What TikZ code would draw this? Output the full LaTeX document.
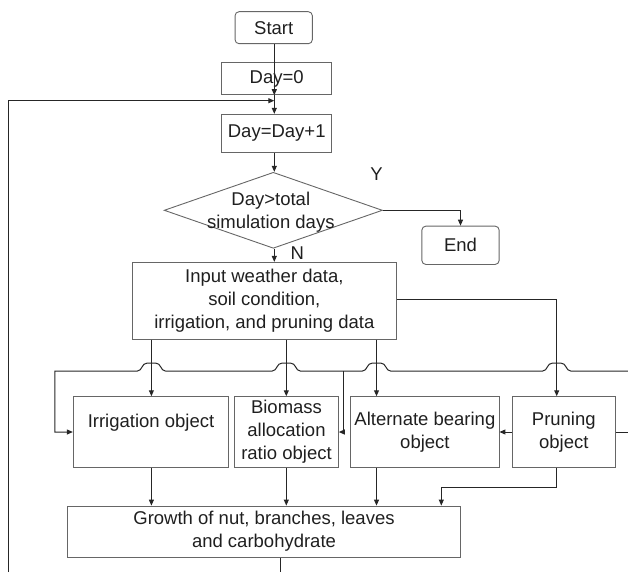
\documentclass[tikz,border=0pt]{standalone}
\usepackage{fontspec}
\setmainfont{Liberation Sans}
\usetikzlibrary{arrows.meta,shapes.geometric,calc}
\begin{document}
\begin{tikzpicture}[x=1pt,y=-1pt,
  every node/.style={font=\fontsize{18.5}{23}\selectfont, text=black!88, align=center, inner sep=0pt},
  box/.style={draw=black!60, line width=0.9pt, rectangle},
  rbox/.style={box, rounded corners=4pt},
  conn/.style={draw=black!85, line width=1pt},
  arr/.style={conn, -{Triangle[length=6pt,width=5pt]}}]
\useasboundingbox (0,0) rectangle (628,572);
\newcommand\hopat[1]{-- ({#1+14},371) .. controls ({#1+9},371) and ({#1+10},363) .. ({#1+4},363) -- ({#1-4},363) .. controls ({#1-10},363) and ({#1-9},371) .. ({#1-14},371)}
% nodes
\node[rbox, minimum width=77.3pt, minimum height=32pt] (start) at (273.7,27.7) {Start};
\node[box, minimum width=110pt, minimum height=32pt] (day0) at (276.7,78.8) {Day=0};
\node[box, minimum width=110pt, minimum height=38.4pt] (dayinc) at (276.7,133.5) {Day=Day+1};
\node[draw=black!60, line width=0.9pt, diamond, minimum width=218.3pt, minimum height=76pt] (dia) at (273.3,210.3) {};
\node (diatext) at (270.8,212) {Day>total\\simulation days};
\node[rbox, minimum width=77.3pt, minimum height=38.3pt] (end) at (460.5,245.3) {End};
\node (ylab) at (376.5,174) {Y};
\node (nlab) at (297.2,253.3) {N};
\node[box, minimum width=264.3pt, minimum height=76.7pt] (input) at (264.3,300.7) {Input weather data,\\soil condition,\\irrigation, and pruning data};
\node[box, minimum width=155.4pt, minimum height=70.6pt] (irr) at (151,432) {Irrigation object\\\mbox{}};
\node[box, minimum width=103.7pt, minimum height=70.6pt] (bio) at (286.5,432) {Biomass\\allocation\\ratio object};
\node[box, minimum width=148.2pt, minimum height=70.6pt] (alt) at (424.9,432) {Alternate bearing\\object};
\node[box, minimum width=103.3pt, minimum height=70.6pt] (prun) at (563.8,432) {Pruning\\object};
\node[box, minimum width=393pt, minimum height=51.3pt] (growth) at (264,531.7) {Growth of nut, branches, leaves\\and carbohydrate};
% coordinates for free ends
\coordinate (lb) at (8.3,572);
\coordinate (j1) at (274.3,100.7);
\coordinate (re1) at (628,432);
\coordinate (re2) at (628,371);
\coordinate (gb) at (280.3,572);
% connectors
\draw[arr] (start.south -| j1) -- (day0.south -| j1) ;
\draw[arr] (day0.south -| j1) -- (dayinc.north -| j1);
\draw[arr] (lb) -- (lb |- j1) -- (j1);
\draw[arr] (dayinc.south -| j1) -- (dia.north -| j1);
\draw[arr] (dia.east) -| (end.north);
\draw[arr] (dia.south -| j1) -- (input.north -| j1);
\draw[arr] (input.south -| 151.4,0) -- (irr.north -| 151.4,0);
\draw[arr] (input.south -| 286.3,0) -- (bio.north -| 286.3,0);
\draw[arr] (input.south -| 376.5,0) -- (alt.north -| 376.5,0);
\draw[arr] (input.east |- 0,299) -| ($(prun.north)+(-7.1,0)$);
\draw[arr] (prun.west) -- (alt.east);
\draw[conn] (prun.east) -- (re1);
\draw[arr] (re2) \hopat{556.7} \hopat{376.5} \hopat{286.3} \hopat{151.4} -- (54.9,371) -- (54.9,432) -- (irr.west);
\draw[arr] (343.6,371) -- (343.6,432) -- (bio.east);
\draw[arr] (irr.south -| 151.4,0) -- (growth.north -| 151.4,0);
\draw[arr] (bio.south -| 286.3,0) -- (growth.north -| 286.3,0);
\draw[arr] (alt.south -| 376.5,0) -- (growth.north -| 376.5,0);
\draw[arr] ($(prun.south)+(-7.1,0)$) -- ++(0,19.4) -| (growth.north -| 441.3,0);
\draw[conn] (growth.south -| gb) -- (gb);
\end{tikzpicture}
\end{document}
